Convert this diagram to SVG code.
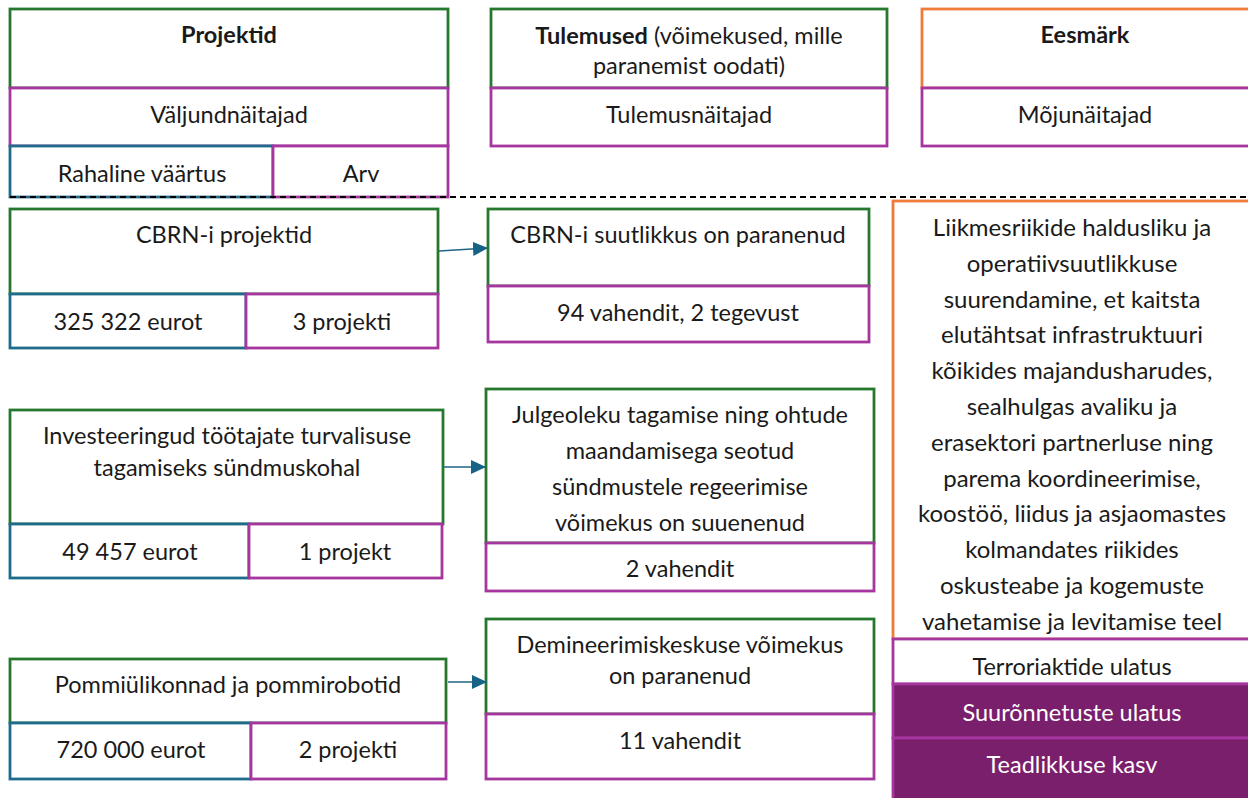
<svg xmlns="http://www.w3.org/2000/svg" width="1248" height="798" viewBox="0 0 1248 798">
<defs>
<style>
text{font-family:Lato,"Noto Sans","Liberation Sans",sans-serif;font-size:23.5px;fill:#1a1a1a;text-anchor:middle}
.b{font-weight:bold}
.s{font-size:24px}
.w{fill:#ffffff}
rect{fill:#ffffff;stroke-width:2.8}
.g{stroke:#26782f}
.m{stroke:#a6369f}
.bl{stroke:#1f6b8c}
.o{stroke:#ee7b3a}
.p{fill:#7a1f6c;stroke:#a6369f}
.conn{stroke:#1e6585;stroke-width:1.6;fill:none}
.dash{stroke:#000;stroke-width:2;stroke-dasharray:6 4;fill:none}
</style>
<marker id="ah" viewBox="0 0 15 14" refX="15" refY="7" markerWidth="15" markerHeight="14" markerUnits="userSpaceOnUse" orient="auto">
<path d="M0,0 L15,7 L0,14 z" fill="#176285"/>
</marker>
</defs>
<rect x="0" y="0" width="1248" height="798" fill="#ffffff" stroke="none"/>

<g id="hdr-projektid">
<rect class="g" x="10" y="9" width="438" height="79"/>
<rect class="m" x="10" y="88" width="438" height="58"/>
<rect class="bl" x="10" y="146" width="263" height="51"/>
<rect class="m" x="273" y="146" width="175" height="51"/>
<text class="b" x="229" y="43">Projektid</text>
<text x="229" y="123">Väljundnäitajad</text>
<text x="142" y="182">Rahaline väärtus</text>
<text x="361" y="182">Arv</text>
</g>

<g id="hdr-tulemused">
<rect class="g" x="491" y="9" width="396" height="79"/>
<rect class="m" x="491" y="88" width="396" height="58"/>
<text x="689" y="44"><tspan class="b">Tulemused</tspan> (võimekused, mille</text>
<text x="689" y="74">paranemist oodati)</text>
<text x="689" y="123">Tulemusnäitajad</text>
</g>

<g id="hdr-eesmark">
<rect class="o" x="922" y="9" width="330" height="79"/>
<rect class="m" x="922" y="88" width="330" height="58"/>
<text class="b" x="1085" y="43">Eesmärk</text>
<text x="1085" y="123">Mõjunäitajad</text>
</g>

<g id="cbrn-projektid">
<rect class="g" x="10" y="209" width="428" height="85"/>
<rect class="bl" x="10" y="294" width="236" height="54"/>
<rect class="m" x="246" y="294" width="192" height="54"/>
<text x="224" y="243">CBRN-i projektid</text>
<text x="128" y="330">325 322 eurot</text>
<text x="342" y="330">3 projekti</text>
</g>

<g id="cbrn-tulemus">
<rect class="g" x="488" y="209" width="381" height="77"/>
<rect class="m" x="488" y="286" width="381" height="56"/>
<text x="678" y="243">CBRN-i suutlikkus on paranenud</text>
<text x="678" y="321">94 vahendit, 2 tegevust</text>
</g>

<g id="investeeringud">
<rect class="g" x="10" y="410" width="433" height="114"/>
<rect class="bl" x="10" y="524" width="239" height="54"/>
<rect class="m" x="249" y="524" width="193" height="54"/>
<text x="227" y="444">Investeeringud töötajate turvalisuse</text>
<text x="227" y="476">tagamiseks sündmuskohal</text>
<text x="130" y="560">49 457 eurot</text>
<text x="345" y="560">1 projekt</text>
</g>

<g id="julgeolek">
<rect class="g" x="486" y="389" width="388" height="154"/>
<rect class="m" x="486" y="543" width="388" height="48"/>
<text x="680" y="423">Julgeoleku tagamise ning ohtude</text>
<text x="680" y="459">maandamisega seotud</text>
<text x="680" y="495">sündmustele regeerimise</text>
<text x="680" y="531">võimekus on suuenenud</text>
<text x="680" y="577">2 vahendit</text>
</g>

<g id="pomm">
<rect class="g" x="10" y="659" width="436" height="64"/>
<rect class="bl" x="10" y="723" width="241" height="56"/>
<rect class="m" x="251" y="723" width="195" height="56"/>
<text x="228" y="693">Pommiülikonnad ja pommirobotid</text>
<text x="131" y="758">720 000 eurot</text>
<text x="348" y="758">2 projekti</text>
</g>

<g id="demineerimine">
<rect class="g" x="486" y="619" width="388" height="95"/>
<rect class="m" x="486" y="714" width="388" height="65"/>
<text x="680" y="653">Demineerimiskeskuse võimekus</text>
<text x="680" y="684">on paranenud</text>
<text x="680" y="749">11 vahendit</text>
</g>

<g id="eesmark-sisu">
<rect class="o" x="893" y="201" width="360" height="438"/>
<text class="s" x="1072" y="236">Liikmesriikide haldusliku ja</text>
<text class="s" x="1072" y="272">operatiivsuutlikkuse</text>
<text class="s" x="1072" y="308">suurendamine, et kaitsta</text>
<text class="s" x="1072" y="343">elutähtsat infrastruktuuri</text>
<text class="s" x="1072" y="379">kõikides majandusharudes,</text>
<text class="s" x="1072" y="415">sealhulgas avaliku ja</text>
<text class="s" x="1072" y="451">erasektori partnerluse ning</text>
<text class="s" x="1072" y="487">parema koordineerimise,</text>
<text class="s" x="1072" y="522">koostöö, liidus ja asjaomastes</text>
<text class="s" x="1072" y="558">kolmandates riikides</text>
<text class="s" x="1072" y="594">oskusteabe ja kogemuste</text>
<text class="s" x="1072" y="630">vahetamise ja levitamise teel</text>
</g>

<g id="mojunaitajad">
<rect class="m" x="893" y="639" width="360" height="45"/>
<rect class="p" x="893" y="684" width="360" height="54"/>
<rect class="p" x="893" y="738" width="360" height="64"/>
<text x="1072" y="675">Terroriaktide ulatus</text>
<text class="w" x="1072" y="721">Suurõnnetuste ulatus</text>
<text class="w" x="1072" y="773">Teadlikkuse kasv</text>
</g>

<g id="connectors">
<line class="dash" x1="10" y1="197" x2="1248" y2="197"/>
<line class="conn" x1="439" y1="251" x2="488" y2="248" marker-end="url(#ah)"/>
<line class="conn" x1="444" y1="467" x2="486" y2="467" marker-end="url(#ah)"/>
<line class="conn" x1="448" y1="682" x2="487" y2="682" marker-end="url(#ah)"/>
</g>
</svg>
